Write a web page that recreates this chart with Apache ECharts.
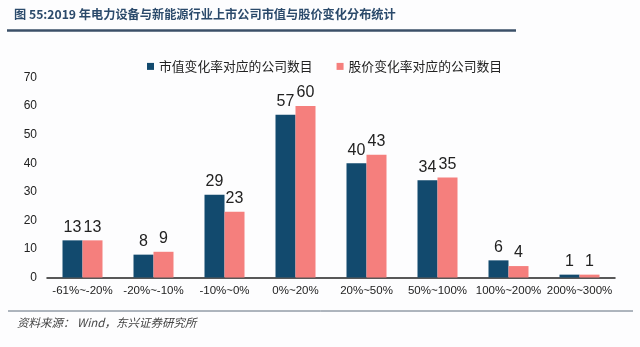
<!DOCTYPE html>
<html><head><meta charset="utf-8">
<script src="https://cdn.jsdelivr.net/npm/echarts@6/dist/echarts.min.js"></script>
<style>html,body{margin:0;padding:0;background:#fdfdfe;}#c{width:640px;height:347px;}</style>
</head><body><div id="c"></div>
<script>
const categories = ['-61%~-20%', '-20%~-10%', '-10%~0%', '0%~20%', '20%~50%', '50%~100%', '100%~200%', '200%~300%'];
const marketCapCounts = [13, 8, 29, 57, 40, 34, 6, 1];
const priceCounts = [13, 9, 23, 60, 43, 35, 4, 1];
const seriesNames = ['市值变化率对应的公司数目', '股价变化率对应的公司数目'];
const titleText = '图 55:2019 年电力设备与新能源行业上市公司市值与股价变化分布统计';
const sourceText = '资料来源： Wind，东兴证券研究所';

const chart = echarts.init(document.getElementById('c'), null, {renderer: 'canvas'});
const font = 'Liberation Sans, Arial, Noto Sans CJK SC, sans-serif';
const labelStyle = {show: true, position: 'top', distance: 5, color: '#222', fontSize: 16, fontFamily: font};
chart.setOption({
  backgroundColor: '#fdfdfe',
  animation: false,
  textStyle: {fontFamily: font},
  legend: {
    top: 55, left: 142, itemWidth: 7, itemHeight: 7, itemGap: 24, icon: 'rect',
    textStyle: {fontSize: 12.8, color: '#222', fontFamily: 'Noto Sans CJK SC, sans-serif'},
    data: seriesNames
  },
  grid: {left: 47, right: 25, top: 77.5, bottom: 69.5, containLabel: false},
  xAxis: {
    type: 'category', data: categories,
    axisLine: {lineStyle: {color: '#222', width: 1.5}},
    axisTick: {show: false},
    axisLabel: {color: '#222', fontSize: 11.5, margin: 8, interval: 0}
  },
  yAxis: {
    type: 'value', min: 0, max: 70, interval: 10,
    splitLine: {show: false}, axisLine: {show: false}, axisTick: {show: false},
    axisLabel: {color: '#222', fontSize: 12, margin: 10}
  },
  series: [
    {name: seriesNames[0], type: 'bar', data: marketCapCounts, barWidth: 20, barGap: '0%',
     itemStyle: {color: '#124a6e'}, label: labelStyle},
    {name: seriesNames[1], type: 'bar', data: priceCounts, barWidth: 20, barGap: '0%',
     itemStyle: {color: '#f57f7d'}, label: labelStyle}
  ],
  graphic: [
    {type: 'text', left: 14, top: 8, style: {text: titleText, fill: '#2b4a6b', fontSize: 12.2, fontWeight: 'bold', fontFamily: 'Noto Sans CJK SC, sans-serif'}},
    {type: 'line', shape: {x1: 7, y1: 30.5, x2: 516, y2: 30.5}, style: {stroke: '#3b5068', lineWidth: 2.5}},
    {type: 'line', shape: {x1: 8, y1: 311, x2: 633, y2: 311}, style: {stroke: '#5f6d7c', lineWidth: 1}},
    {type: 'text', left: 17, top: 317, style: {text: sourceText, fill: '#444', fontSize: 11.5, fontStyle: 'italic', fontFamily: 'Noto Sans CJK SC, sans-serif'}}
  ]
});
</script></body></html>
